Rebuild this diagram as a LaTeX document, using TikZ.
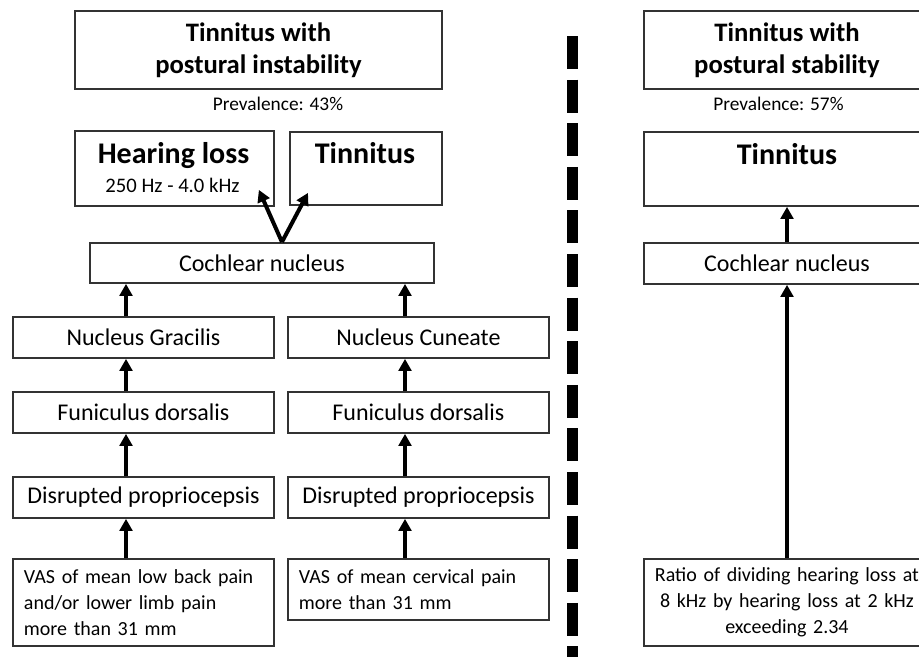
\documentclass[tikz,border=0pt]{standalone}
\usepackage{fontspec}
\setmainfont{Carlito}
\usetikzlibrary{arrows.meta,calc}

\newdimen\unitpx
\unitpx=0.75pt

\tikzset{
  box/.style={draw=black!80, line width=1.4pt, rectangle, inner sep=0pt, anchor=north west,
    align=center, font=\fontsize{18}{21}\selectfont},
  sz/.style 2 args={minimum width=#1\unitpx, minimum height=#2\unitpx},
  head/.style={box, font=\bfseries\fontsize{20}{24}\selectfont},
  big/.style={anchor=base, inner sep=0pt, font=\bfseries\fontsize{22.5}{26}\selectfont},
  small/.style={anchor=base, inner sep=0pt, font=\fontsize{14.5}{17}\selectfont},
  crit/.style={box, font=\fontsize{15}{19.5}\selectfont},
  arr/.style={-{Triangle[width=9.5pt,length=9pt]}, line width=3pt},
  divider/.style={line width=8.25pt, dash pattern=on 24.75pt off 7.95pt},
}

\begin{document}
\begin{tikzpicture}[x=0.75pt,y=-0.75pt]
\useasboundingbox (0,0) rectangle (919,657);
\clip (0,0) rectangle (919,657);

%linka stran: nestabilnost
\node[head, sz={367}{78}] (ttlL) at (74,10) {Tinnitus with\\postural instability};
\node[small] (prevL) at (278,110) {Prevalence: 43\%};

\node[box, sz={199}{75}] (hear) at (74,130) {};
\node[big] (hearT) at (173.5,163) {Hearing loss};
\node[small, font=\fontsize{15.5}{18}\selectfont] (hearF) at (172.5,192) {250 Hz - 4.0 kHz};
\node[box, sz={152}{73}] (tinL) at (289,131) {};
\node[big] (tinLT) at (365,163) {Tinnitus};

\node[box, sz={344}{40}] (coch) at (89,242) {Cochlear nucleus};

\node[box, sz={261}{41}] (gra) at (12,316) {Nucleus Gracilis};
\node[box, sz={261}{41}] (cun) at (287,316) {Nucleus Cuneate};
\node[box, sz={261}{41}] (funL) at (12,391) {Funiculus dorsalis};
\node[box, sz={261}{41}] (funR) at (287,391) {Funiculus dorsalis};
\node[box, sz={261}{41}] (disL) at (12,476) {Disrupted propriocepsis};
\node[box, sz={261}{41}] (disR) at (287,476) {Disrupted propriocepsis};
\node[crit, sz={261}{87}, text width=239\unitpx, align=left] (vasL) at (12,558)
  {VAS of mean low back pain\\and/or lower limb pain\\more than 31 mm};
\node[crit, sz={261}{61}, text width=239\unitpx, align=left] (vasR) at (287,558)
  {VAS of mean cervical pain\\more than 31 mm};

%puscice
\coordinate (apex) at ($(coch.north)+(20,0)$);
\draw[arr] (apex) -- ($(hear.south east)+(-16,-17)$);
\draw[arr] (apex) -- ($(tinL.south west)+(19,-13)$);

\coordinate (lcol) at (126,0);
\coordinate (rcol) at (405,0);
\foreach \a/\b in {gra/coch, funL/gra, disL/funL, vasL/disL}
  \draw[arr] (\a.north -| lcol) -- (\b.south -| lcol);
\foreach \a/\b in {cun/coch, funR/cun, disR/funR, vasR/disR}
  \draw[arr] (\a.north -| rcol) -- (\b.south -| rcol);

%locnica
\draw[divider] (572.5,36) -- (572.5,657);

%desna stran: stabilnost
\node[head, sz={286}{78}] (ttlR) at (643,10) {Tinnitus with\\postural stability};
\node[small] (prevR) at (778.5,110) {Prevalence: 57\%};
\node[box, sz={286}{74}] (tinR) at (643,131) {};
\node[big] (tinRT) at (787,164) {Tinnitus};
\node[box, sz={286}{41}] (cochR) at (643,242) {Cochlear nucleus};
\node[crit, sz={286}{87}, text width=280\unitpx] (ratio) at (643,558)
  {Ratio of dividing hearing loss at\\8 kHz by hearing loss at 2 kHz\\exceeding 2.34};

\coordinate (xcol) at (787,0);
\foreach \a/\b in {cochR/tinR, ratio/cochR}
  \draw[arr] (\a.north -| xcol) -- (\b.south -| xcol);

\end{tikzpicture}
\end{document}
